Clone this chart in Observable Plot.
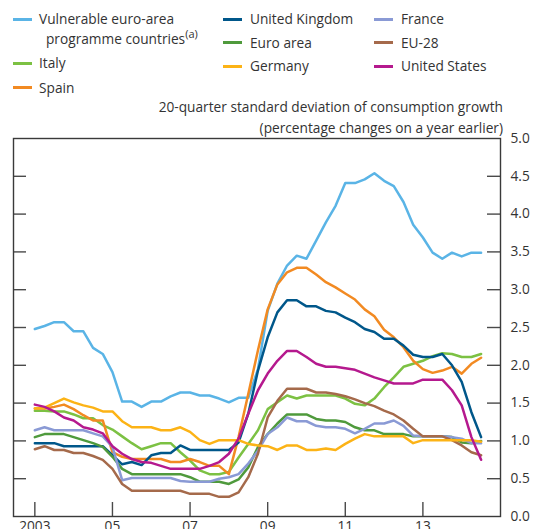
<!DOCTYPE html>
<html><head><meta charset="utf-8">
<script src="https://cdn.jsdelivr.net/npm/d3@7"></script>
<script src="https://cdn.jsdelivr.net/npm/@observablehq/plot@0.6"></script>
<style>
body{margin:0;width:536px;height:529px;overflow:hidden;background:#fff;font-family:"Open Sans",sans-serif;color:#333;position:relative}
.col{position:absolute;font-size:13.7px}
.item{position:relative;white-space:nowrap}
.sw{position:absolute;width:19px;height:3px}
.c1{left:13px;top:9px}
.c1 .item{line-height:19.5px;padding-left:26px;margin-bottom:5px}
.c1 .sw{top:8.5px;left:0}
.c2{left:223px;top:7px}
.c3{left:374px;top:7px}
.c2 .item,.c3 .item{line-height:23.7px;padding-left:27px}
.c2 .sw,.c3 .sw{top:10.5px;left:0}
.indent{padding-left:7px}
sup{font-size:11px;line-height:0;vertical-align:6px}
#subtitle{position:absolute;right:33px;top:96px;text-align:right;font-size:13.7px;line-height:21px}
#chart{position:absolute;left:0;top:132px}
</style></head><body>
<div id="legend"></div>
<div id="subtitle"></div>
<div id="chart"></div>
<script>
// ---- data ----
const startYear = 2003; // first observation: 2003 Q1, quarterly
const seriesNames = ["Vulnerable euro-area programme countries","Italy","Spain","United Kingdom","Euro area","Germany","France","EU-28","United States"];
const seriesNote = "(a)";
const seriesColors = ["#5ab4e6","#7cc143","#f28a22","#00578a","#4f9a3c","#fcb316","#8a9ad5","#a56a4b","#b5198e"];
const subtitleLines = ["20-quarter standard deviation of consumption growth","(percentage changes on a year earlier)"];
const yTickValues = [0,0.5,1,1.5,2,2.5,3,3.5,4,4.5,5];
const yInnerTicks = [0.5,1,1.5,2,2.5,3,3.5,4,4.5];
const xTickValues = [2003,2005,2007,2009,2011,2013];
const xTickLabels = ["2003","05","07","09","11","13"];

const vulnerable = [2.48,2.52,2.57,2.57,2.45,2.45,2.23,2.15,1.91,1.52,1.52,1.45,1.52,1.52,1.59,1.64,1.64,1.60,1.60,1.56,1.51,1.57,1.57,1.95,2.72,3.08,3.32,3.45,3.41,3.65,3.89,4.11,4.41,4.41,4.46,4.54,4.44,4.37,4.16,3.86,3.69,3.49,3.41,3.49,3.44,3.49,3.49];
const italy = [1.40,1.40,1.39,1.39,1.35,1.30,1.30,1.21,1.15,1.06,0.97,0.89,0.93,0.97,0.97,0.85,0.74,0.61,0.56,0.56,0.59,0.78,0.96,1.14,1.42,1.51,1.60,1.56,1.60,1.60,1.60,1.60,1.56,1.49,1.47,1.56,1.71,1.84,1.98,2.02,2.06,2.12,2.16,2.15,2.11,2.11,2.15];
const spain = [1.43,1.43,1.45,1.48,1.42,1.34,1.27,1.27,0.85,0.79,0.76,0.76,0.76,0.76,0.72,0.72,0.76,0.72,0.67,0.67,0.56,1.05,1.62,2.20,2.74,3.07,3.23,3.29,3.29,3.20,3.10,3.03,2.95,2.87,2.74,2.65,2.47,2.37,2.24,2.06,1.95,1.90,1.93,1.98,1.89,2.02,2.10];
const unitedKingdom = [0.97,0.97,0.97,0.93,0.93,0.93,0.93,0.93,0.81,0.69,0.72,0.68,0.81,0.84,0.84,0.94,0.88,0.88,0.88,0.88,0.88,0.98,1.36,1.93,2.37,2.70,2.86,2.86,2.78,2.78,2.72,2.70,2.63,2.57,2.48,2.44,2.35,2.35,2.26,2.14,2.11,2.11,2.15,2.00,1.78,1.38,1.05];
const euroArea = [1.05,1.09,1.09,1.09,1.05,1.01,0.97,0.92,0.79,0.63,0.56,0.56,0.56,0.56,0.56,0.56,0.52,0.46,0.46,0.46,0.43,0.49,0.65,0.92,1.09,1.23,1.35,1.35,1.35,1.29,1.27,1.27,1.25,1.18,1.14,1.14,1.09,1.09,1.09,1.06,1.06,1.06,1.06,1.05,0.98,0.97,1.00];
const germany = [1.43,1.44,1.50,1.56,1.51,1.47,1.44,1.39,1.39,1.26,1.18,1.18,1.18,1.14,1.14,1.18,1.12,1.01,0.96,1.01,1.01,1.01,0.96,0.94,0.93,0.88,0.94,0.94,0.88,0.88,0.90,0.88,0.96,1.03,1.09,1.06,1.06,1.06,1.06,0.97,1.01,1.01,1.01,1.01,1.01,1.01,0.99];
const france = [1.14,1.18,1.14,1.14,1.14,1.14,1.10,1.06,0.92,0.48,0.51,0.51,0.51,0.51,0.51,0.47,0.46,0.46,0.46,0.50,0.52,0.56,0.70,0.87,1.09,1.18,1.31,1.26,1.26,1.20,1.18,1.18,1.16,1.10,1.16,1.23,1.23,1.27,1.20,1.07,1.06,1.06,1.06,1.05,1.03,0.97,0.97];
const eu28 = [0.89,0.93,0.88,0.88,0.84,0.84,0.80,0.75,0.63,0.43,0.34,0.34,0.34,0.34,0.34,0.34,0.30,0.30,0.30,0.26,0.26,0.32,0.52,0.83,1.31,1.53,1.69,1.69,1.69,1.64,1.64,1.62,1.59,1.55,1.50,1.46,1.40,1.35,1.27,1.16,1.06,1.06,1.06,1.01,0.94,0.85,0.81];
const unitedStates = [1.48,1.45,1.39,1.31,1.27,1.18,1.15,1.10,0.93,0.83,0.76,0.72,0.71,0.67,0.63,0.63,0.63,0.63,0.67,0.72,0.83,1.03,1.36,1.67,1.89,2.06,2.19,2.19,2.11,2.02,1.98,1.98,1.96,1.94,1.89,1.84,1.80,1.76,1.76,1.76,1.81,1.81,1.81,1.67,1.47,1.05,0.75];

const seriesValues = [vulnerable, italy, spain, unitedKingdom, euroArea, germany, france, eu28, unitedStates];
const drawOrder = ["Vulnerable euro-area programme countries","Italy","Spain","United Kingdom","Euro area","France","EU-28","Germany","United States"];

// ---- build table ----
const rows = [];
for (const name of drawOrder) {
  const vals = seriesValues[seriesNames.indexOf(name)];
  vals.forEach((v, i) => rows.push({series: name, t: startYear + i / 4, v}));
}

// ---- legend ----
const legend = document.getElementById("legend");
const colsIdx = [[0,1,2],[3,4,5],[6,7,8]];
colsIdx.forEach((idxs, c) => {
  const col = document.createElement("div");
  col.className = "col c" + (c + 1);
  idxs.forEach(k => {
    const it = document.createElement("div");
    it.className = "item";
    const sw = document.createElement("span");
    sw.className = "sw";
    sw.style.background = seriesColors[k];
    it.appendChild(sw);
    if (k === 0) {
      const parts = seriesNames[0].split(" programme ");
      const a = document.createElement("div"); a.textContent = parts[0];
      const b = document.createElement("div"); b.className = "indent";
      b.innerHTML = "programme " + parts[1] + "<sup>" + seriesNote + "</sup>";
      it.appendChild(a); it.appendChild(b);
    } else {
      it.appendChild(document.createTextNode(seriesNames[k]));
    }
    col.appendChild(it);
  });
  legend.appendChild(col);
});
document.getElementById("subtitle").innerHTML = subtitleLines.join("<br>");

// ---- chart ----
const W = 536, mL = 13, mR = 36, mT = 6, mB = 30, H = 414;
const plotW = W - mL - mR, plotH = H - mT - mB;
const tickStyle = {stroke: "#4a4a4a", strokeWidth: 1.4};
const chart = Plot.plot({
  width: W, height: H,
  marginLeft: mL, marginRight: mR, marginTop: mT, marginBottom: mB,
  x: {domain: [2002.45, 2015.0], label: null},
  y: {domain: [0, 5], label: null},
  color: {domain: seriesNames, range: seriesColors},
  style: {fontFamily: "Open Sans, sans-serif", fontSize: "13.7px", color: "#333", background: "transparent"},
  marks: [
    Plot.tickY(yInnerTicks, {y: d => d, insetLeft: plotW - 13, ...tickStyle}),
    Plot.tickY(yInnerTicks, {y: d => d, insetRight: plotW - 13, ...tickStyle}),
    Plot.tickX(xTickValues, {x: d => d, insetTop: plotH - 14, ...tickStyle}),
    Plot.axisX({ticks: xTickValues, tickSize: 0, tickPadding: 5, tickFormat: d => xTickLabels[xTickValues.indexOf(d)], label: null}),
    Plot.axisY({ticks: yTickValues, anchor: "right", tickSize: 0, tickPadding: 10, tickFormat: d => d.toFixed(1), label: null}),
    Plot.line(rows, {x: "t", y: "v", z: "series", stroke: "series", strokeWidth: 2.5, strokeLinejoin: "round"}),
    Plot.frame({stroke: "#3a3a3a", strokeWidth: 1.4})
  ]
});
document.getElementById("chart").appendChild(chart);
</script>
</body></html>
